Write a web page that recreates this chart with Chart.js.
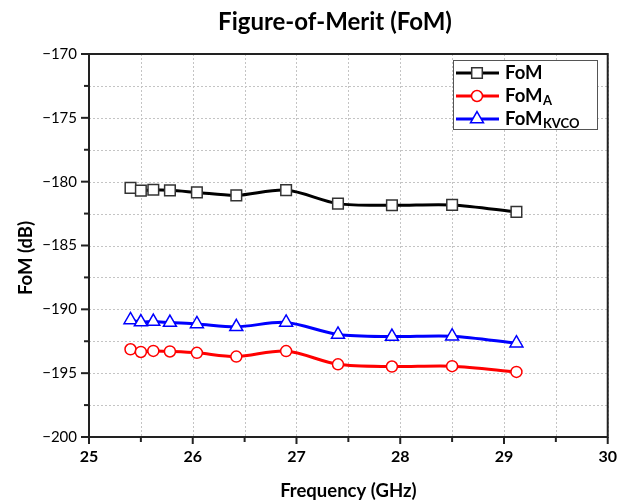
<!DOCTYPE html>
<html>
<head>
<meta charset="utf-8">
<script src="https://cdn.jsdelivr.net/npm/chart.js@4/dist/chart.umd.min.js"></script>
<style>
html,body{margin:0;padding:0;background:#fff;}
#wrap{width:627px;height:502px;position:relative;}
</style>
</head>
<body>
<div id="wrap"><canvas id="c" width="627" height="502"></canvas></div>
<script>
// ---- Data ----
const freqGHz = [25.4, 25.5, 25.62, 25.78, 26.04, 26.42, 26.9, 27.4, 27.92, 28.5, 29.12];
const fom     = [-180.49, -180.70, -180.63, -180.68, -180.84, -181.07, -180.66, -181.72, -181.85, -181.82, -182.37];
const fomA    = [-193.13, -193.34, -193.26, -193.30, -193.41, -193.70, -193.27, -194.31, -194.48, -194.45, -194.90];
const fomKVCO = [-190.83, -191.00, -190.96, -191.04, -191.14, -191.37, -191.03, -191.97, -192.13, -192.10, -192.65];
const seriesNames = ['FoM', 'FoM', 'FoM'];
const seriesSubs  = ['', 'A', 'KVCO'];
const xTickLabels = [25, 26, 27, 28, 29, 30];
const yTickLabels = [-200, -195, -190, -185, -180, -175, -170];
const chartTitle = 'Figure-of-Merit (FoM)';
const xTitle = 'Frequency (GHz)';
const yTitle = 'FoM (dB)';

const FONT = 'Lato, "Open Sans", sans-serif';
const pts = ys => freqGHz.map((x, i) => ({x: x, y: ys[i]}));

const styles = [
  {color: '#000000', border: '#333333', pointStyle: 'rect', radius: 7.5},
  {color: '#ff0000', border: '#ff0000', pointStyle: 'circle', radius: 5.5},
  {color: '#0000ff', border: '#0000ff', pointStyle: 'triangle', radius: 7.5}
];
const allSeries = [fom, fomA, fomKVCO];

const datasets = allSeries.map((s, i) => ({
  label: seriesNames[i] + seriesSubs[i],
  data: pts(s),
  borderColor: styles[i].color,
  borderWidth: 3,
  backgroundColor: '#ffffff',
  pointStyle: styles[i].pointStyle,
  pointRadius: styles[i].radius,
  pointBorderColor: styles[i].border,
  pointBackgroundColor: '#ffffff',
  pointBorderWidth: 1.5,
  tension: 0.3,
  fill: false
}));

const framePlugin = {
  id: 'frame',
  beforeDatasetsDraw(chart) {
    const {ctx, chartArea: a, scales: {x, y}} = chart;
    ctx.save();
    ctx.strokeStyle = '#c4c4c4';
    ctx.lineWidth = 1;
    ctx.setLineDash([2, 2]);
    x.ticks.forEach(t => {
      const px = Math.round(x.getPixelForValue(t.value)) + 0.5;
      ctx.beginPath(); ctx.moveTo(px, a.top); ctx.lineTo(px, a.bottom); ctx.stroke();
    });
    y.ticks.forEach(t => {
      const py = Math.round(y.getPixelForValue(t.value)) + 0.5;
      ctx.beginPath(); ctx.moveTo(a.left, py); ctx.lineTo(a.right, py); ctx.stroke();
    });
    ctx.restore();
  },
  afterDraw(chart) {
    const {ctx, chartArea: a, scales: {x, y}} = chart;
    ctx.save();
    ctx.strokeStyle = '#222';
    ctx.lineWidth = 2;
    ctx.setLineDash([]);
    ctx.strokeRect(a.left, a.top, a.right - a.left, a.bottom - a.top);
    x.ticks.forEach(t => {
      const px = x.getPixelForValue(t.value);
      const major = xTickLabels.includes(t.value);
      ctx.beginPath(); ctx.moveTo(px, a.bottom); ctx.lineTo(px, a.bottom + (major ? 7 : 5)); ctx.stroke();
    });
    y.ticks.forEach(t => {
      const py = y.getPixelForValue(t.value);
      const major = yTickLabels.includes(t.value);
      ctx.beginPath(); ctx.moveTo(a.left, py); ctx.lineTo(a.left - (major ? 8 : 5), py); ctx.stroke();
    });
    ctx.restore();

    // title and y-axis title
    ctx.save();
    ctx.fillStyle = '#000';
    ctx.textAlign = 'center';
    ctx.textBaseline = 'middle';
    ctx.font = 'bold 24px ' + FONT;
    ctx.fillText(chartTitle, 335, 22);
    ctx.translate(26, 258);
    ctx.rotate(-Math.PI / 2);
    ctx.font = 'bold 18.5px ' + FONT;
    ctx.fillText(yTitle, 0, 0);
    ctx.restore();

    // legend
    const bx = 453, by = 60, bw = 144, bh = 69;
    ctx.save();
    ctx.fillStyle = '#fff';
    ctx.fillRect(bx, by, bw, bh);
    ctx.strokeStyle = '#555';
    ctx.lineWidth = 1;
    ctx.strokeRect(bx + 0.5, by + 0.5, bw, bh);
    const rows = [73, 96, 119];
    rows.forEach((ry, i) => {
      const st = styles[i];
      ctx.strokeStyle = st.color;
      ctx.lineWidth = 3;
      ctx.beginPath(); ctx.moveTo(456, ry); ctx.lineTo(499, ry); ctx.stroke();
      ctx.fillStyle = '#fff';
      ctx.strokeStyle = st.border;
      ctx.lineWidth = 1.5;
      Chart.helpers.drawPoint(ctx, {pointStyle: st.pointStyle, radius: st.radius, rotation: 0, borderWidth: 1.5}, 477, ry);
      ctx.fillStyle = '#000';
      ctx.textBaseline = 'middle';
      ctx.textAlign = 'left';
      ctx.font = 'bold 18.5px ' + FONT;
      ctx.fillText(seriesNames[i], 505, ry);
      const w = ctx.measureText(seriesNames[i]).width;
      if (seriesSubs[i]) {
        ctx.font = 'bold 13px ' + FONT;
        ctx.fillText(seriesSubs[i], 505 + w + 0.5, ry + 5);
      }
    });
    ctx.restore();
  }
};

new Chart(document.getElementById('c'), {
  type: 'line',
  data: {datasets: datasets},
  plugins: [framePlugin],
  options: {
    responsive: false,
    animation: false,
    devicePixelRatio: 1,
    layout: {padding: {left: 0, right: 18, top: 54, bottom: 0}},
    plugins: {
      legend: {display: false},
      tooltip: {enabled: false},
      title: {display: false}
    },
    scales: {
      x: {
        type: 'linear',
        min: 25, max: 30,
        afterFit: s => { s.height = 65; },
        grid: {display: false, drawTicks: false},
        border: {display: false},
        ticks: {
          stepSize: 0.5,
          autoSkip: false,
          maxRotation: 0,
          padding: 10,
          color: '#000',
          font: {family: FONT, size: 16, weight: 'bold'},
          callback: v => xTickLabels.includes(v) ? String(v) : ''
        },
        title: {
          display: true,
          text: xTitle,
          color: '#000',
          font: {family: FONT, size: 18.5, weight: 'bold'},
          padding: {top: 0, bottom: 0}
        }
      },
      y: {
        type: 'linear',
        min: -200, max: -170,
        afterFit: s => { s.width = 89; },
        grid: {display: false, drawTicks: false},
        border: {display: false},
        ticks: {
          stepSize: 2.5,
          autoSkip: false,
          padding: 12,
          color: '#000',
          font: {family: FONT, size: 15},
          callback: v => yTickLabels.includes(v) ? String(v).replace('-', '\u2212') : ''
        },
        title: {display: false}
      }
    }
  }
});
</script>
</body>
</html>
